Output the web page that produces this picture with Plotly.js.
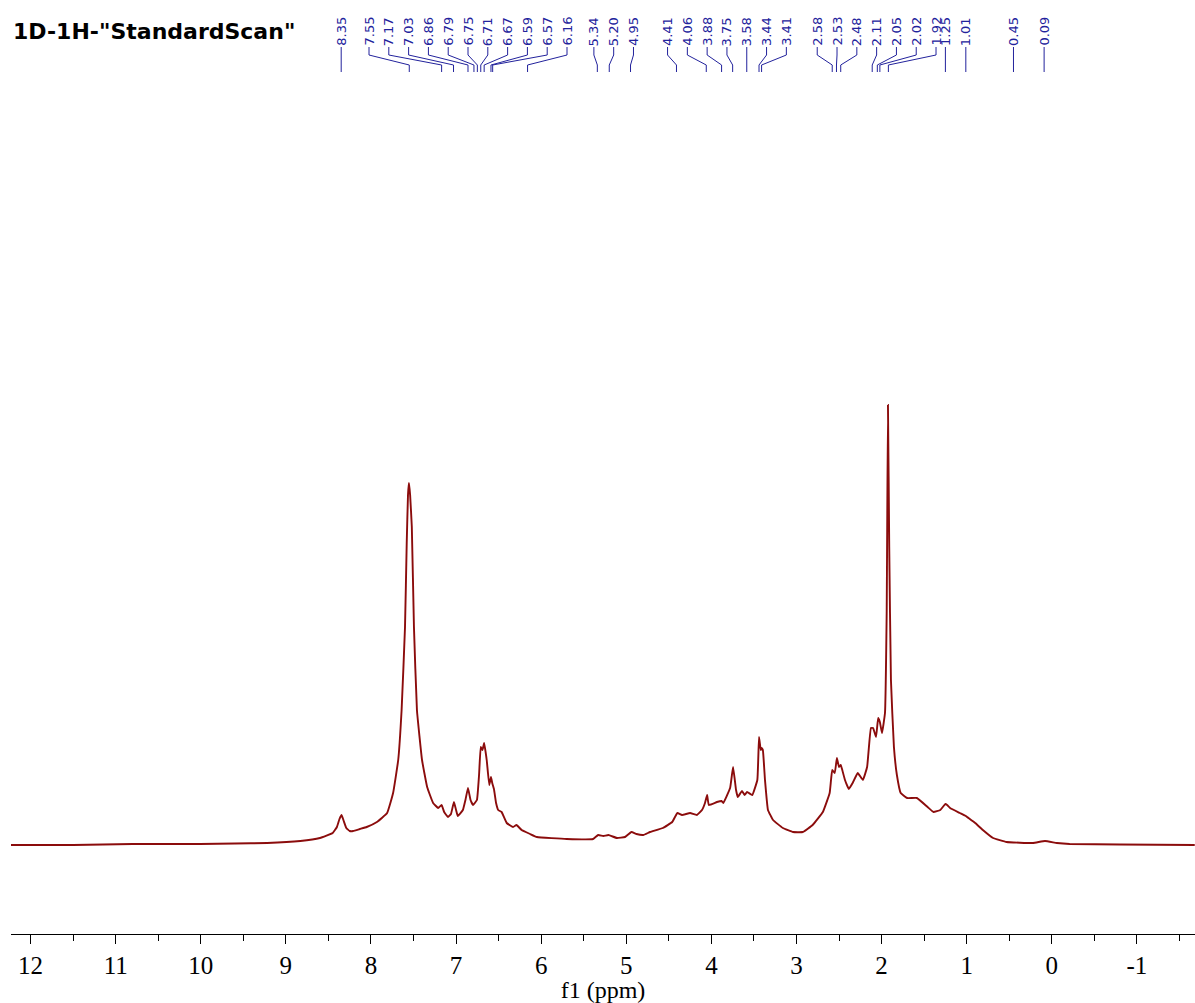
<!DOCTYPE html>
<html><head><meta charset="utf-8">
<script src="https://cdn.plot.ly/plotly-3.0.1.min.js"></script>
<style>html,body{margin:0;padding:0;background:#fff}#chart{width:1195px;height:1003px}</style>
</head><body><div id="chart"></div>
<script>
// ---- data ----
const ppm = [12.24,11.5,10.8,10.01,9.6,9.22,8.83,8.6,8.45,8.4,8.37,8.345,8.32,8.29,8.25,8.21,8.13,8.05,7.93,7.81,7.74,7.68,7.64,7.6,7.58,7.565,7.554,7.54,7.52,7.495,7.46,7.4,7.34,7.27,7.21,7.17,7.14,7.095,7.06,7.025,7.0,6.98,6.92,6.89,6.86,6.83,6.8,6.755,6.73,6.71,6.69,6.67,6.64,6.61,6.59,6.575,6.555,6.53,6.505,6.465,6.405,6.33,6.29,6.23,6.13,6.05,5.7,5.39,5.33,5.27,5.21,5.11,5.015,4.94,4.88,4.8,4.72,4.57,4.46,4.4,4.345,4.25,4.17,4.11,4.075,4.05,4.03,3.935,3.88,3.86,3.78,3.745,3.71,3.69,3.64,3.61,3.58,3.52,3.46,3.44,3.42,3.41,3.395,3.37,3.335,3.275,3.16,3.04,2.925,2.81,2.69,2.61,2.58,2.55,2.525,2.5,2.48,2.465,2.43,2.385,2.34,2.28,2.22,2.17,2.125,2.1,2.065,2.04,2.02,1.995,1.96,1.94,1.925,1.91,1.89,1.855,1.82,1.775,1.7,1.585,1.46,1.39,1.31,1.25,1.23,1.195,1.08,1.01,0.995,0.9,0.81,0.69,0.53,0.22,0.08,-0.06,-0.21,-0.8,-1.68];
const intensity = [0,0,1,1,1.5,2,4,7,12,18,26,30,24,17,14,14,16,18,23,32,52,85,135,218,302,350,362,350,318,218,135,85,58,42,37,40,33,28,31,43,35,29,35,45,57,45,40,45,70,98,95,102,85,60,68,62,56,42,35,33,22,18,20,15,11,8,6,6,10,9,10,7,8,13,11,10,13,17,23,32,30,32,30,35,42,50,40,43,44,42,57,78,55,48,54,50,53,50,65,108,95,97,95,65,35,25,17,13,13,20,33,52,75,72,87,78,80,76,65,56,62,72,65,78,117,117,108,127,123,112,132,232,440,298,165,98,70,52,47,47,38,33,35,41,40,37,32,29,28,22,15,7,3,2,4,2,1,0.5,0];
const peakLabels = [8.35,7.55,7.17,7.03,6.86,6.79,6.75,6.71,6.67,6.59,6.57,6.16,5.34,5.20,4.95,4.41,4.06,3.88,3.75,3.58,3.44,3.41,2.58,2.53,2.48,2.11,2.05,2.02,1.92,1.25,1.01,0.45,0.09];
const tickValues = [12,11,10,9,8,7,6,5,4,3,2,1,0,-1];
const tickLabels = ['12','11','10','9','8','7','6','5','4','3','2','1','0','-1'];
const titleText = '1D-1H-"StandardScan"';
const axisTitle = 'f1 (ppm)';

// ---- layout geometry ----
const W = 1195, H = 1003;
const M = {l: 11, r: 0, t: 0, b: 69};
const xRange = [12.23, -1.683];
const yRange = [-89, 845];
const plotW = W - M.l - M.r, plotH = H - M.t - M.b;
const pxPerPpm = plotW / (xRange[0] - xRange[1]);
const xPx = p => M.l + (xRange[0] - p) * pxPerPpm;
const ppmAt = px => xRange[0] - (px - M.l) / pxPerPpm;
const paperY = py => (plotH + M.t - py) / plotH;

// label spreading (layout): spacing in px and per-group nudges keyed by first label
const labelColor = '#22229c';
const spacing = 19.8, groupGap = 40;
const groupNudge = {'7.55': -4.7, '5.34': 1.3, '4.41': -2.3, '2.58': 15.6};
const peakPx = peakLabels.map(xPx);
const groups = [];
peakPx.forEach((p, i) => {
  if (i === 0 || p - peakPx[i - 1] >= groupGap) groups.push([i]);
  else groups[groups.length - 1].push(i);
});
const labelPx = peakPx.slice();
groups.forEach(g => {
  if (g.length < 2) return;
  let need = false;
  for (let k = 1; k < g.length; k++) if (peakPx[g[k]] - peakPx[g[k - 1]] < spacing) need = true;
  if (!need) return;
  const mean = g.reduce((s, i) => s + peakPx[i], 0) / g.length + (groupNudge[peakLabels[g[0]].toFixed(2)] || 0);
  g.forEach((i, k) => { labelPx[i] = mean + (k - (g.length - 1) / 2) * spacing; });
});

const yTextBottom = 47, yBend1 = 55, yBend2 = 65, yEnd = 72;
const shapes = [], annotations = [];
const ln = (x0, y0, x1, y1) => shapes.push({type: 'line', xref: 'x', yref: 'paper',
  x0: ppmAt(x0), x1: ppmAt(x1), y0: paperY(y0), y1: paperY(y1), line: {color: labelColor, width: 1}});
peakLabels.forEach((v, i) => {
  const L = labelPx[i], P = peakPx[i];
  if (Math.abs(L - P) < 0.5) ln(L, yTextBottom, L, yEnd);
  else { ln(L, yTextBottom, L, yBend1); ln(L, yBend1, P, yBend2); ln(P, yBend2, P, yEnd); }
  annotations.push({xref: 'x', yref: 'paper', x: ppmAt(L), y: paperY(yTextBottom), text: v.toFixed(2),
    textangle: -90, xanchor: 'center', yanchor: 'bottom', showarrow: false, borderpad: 0,
    font: {family: 'DejaVu Sans', size: 13, color: labelColor}});
});

const trace = {x: ppm, y: intensity, type: 'scatter', mode: 'lines', hoverinfo: 'skip',
  line: {color: '#8b0c0c', width: 1.9, shape: 'spline', smoothing: 0.3}};

const layout = {
  width: W, height: H, margin: M, paper_bgcolor: '#fff', plot_bgcolor: '#fff', showlegend: false,
  title: {text: titleText, x: 13 / W, xanchor: 'left', y: 1 - 31 / H, yanchor: 'middle', xref: 'container', yref: 'container',
    font: {family: 'DejaVu Sans', size: 22, weight: 'bold', color: '#000'}},
  xaxis: {range: xRange, showgrid: false, zeroline: false, showline: true, linecolor: '#000', linewidth: 1,
    ticks: 'outside', ticklen: 9, tickwidth: 1, tickcolor: '#000', tickmode: 'array', tickvals: tickValues, ticktext: tickLabels,
    tickfont: {family: 'Liberation Serif', size: 25, color: '#000'},
    minor: {dtick: 0.5, tick0: 0, ticks: 'outside', ticklen: 6, tickwidth: 1, tickcolor: '#000', showgrid: false},
    title: {text: axisTitle, standoff: 3, font: {family: 'Liberation Serif', size: 24, color: '#000'}}},
  yaxis: {range: yRange, visible: false, showgrid: false, zeroline: false},
  shapes: shapes, annotations: annotations
};
Plotly.newPlot('chart', [trace], layout, {staticPlot: true, displayModeBar: false});
</script></body></html>
